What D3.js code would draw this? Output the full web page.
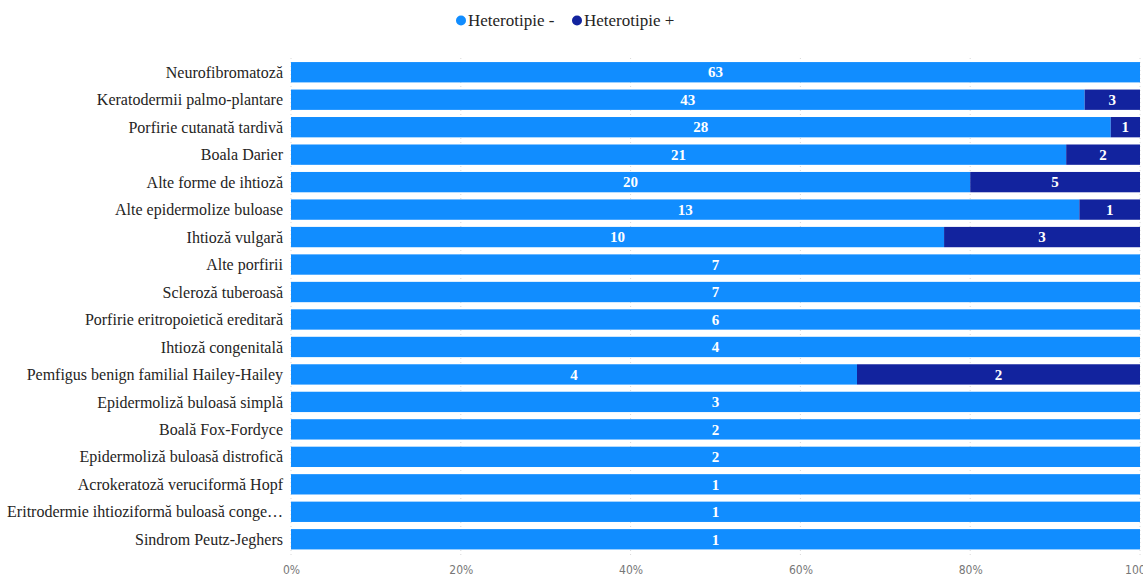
<!DOCTYPE html>
<html>
<head>
<meta charset="utf-8">
<script src="https://cdn.jsdelivr.net/npm/d3@7"></script>
<style>
  html, body { margin: 0; padding: 0; background: #ffffff; overflow: hidden; }
  svg { display: block; }
</style>
</head>
<body>
<svg id="chart" width="1143" height="579"></svg>
<script>
// Diagnoses, counts by heterotopia status
const categories = [
  "Neurofibromatoză",
  "Keratodermii palmo-plantare",
  "Porfirie cutanată tardivă",
  "Boala Darier",
  "Alte forme de ihtioză",
  "Alte epidermolize buloase",
  "Ihtioză vulgară",
  "Alte porfirii",
  "Scleroză tuberoasă",
  "Porfirie eritropoietică ereditară",
  "Ihtioză congenitală",
  "Pemfigus benign familial Hailey-Hailey",
  "Epidermoliză buloasă simplă",
  "Boală Fox-Fordyce",
  "Epidermoliză buloasă distrofică",
  "Acrokeratoză veruciformă Hopf",
  "Eritrodermie ihtioziformă buloasă conge…",
  "Sindrom Peutz-Jeghers"
];
const heterotipieMinus = [63, 43, 28, 21, 20, 13, 10, 7, 7, 6, 4, 4, 3, 2, 2, 1, 1, 1];
const heterotipiePlus  = [0, 3, 1, 2, 5, 1, 3, 0, 0, 0, 0, 2, 0, 0, 0, 0, 0, 0];
const seriesNames = ["Heterotipie -", "Heterotipie +"];
const seriesColors = ["#118DFF", "#12239E"];
const tickValues = [0, 0.2, 0.4, 0.6, 0.8, 1];

const svg = d3.select("#chart");
const serif = "'Liberation Serif', 'Times New Roman', serif";
const axisFont = "'Liberation Sans Narrow', 'DejaVu Sans Condensed', sans-serif";

const rows = categories.map((c, i) => ({
  cat: c,
  minus: heterotipieMinus[i],
  plus: heterotipiePlus[i]
}));

const x = d3.scaleLinear().domain([0, 1]).range([291, 1140]);
const y = d3.scaleBand().domain(categories).range([58.5, 553]).paddingInner(0.26).paddingOuter(0.13);

// faint vertical gridlines
svg.append("g").selectAll("line").data(tickValues).join("line")
  .attr("x1", d => x(d)).attr("x2", d => x(d))
  .attr("y1", 58).attr("y2", 556)
  .attr("stroke", "#d8d8d8").attr("stroke-width", 1)
  .attr("stroke-dasharray", "1,3");

// stacked (normalised) segments
const stack = d3.stack().keys(["minus", "plus"]).offset(d3.stackOffsetExpand);
const layers = stack(rows);

const g = svg.append("g");
layers.forEach((layer, li) => {
  g.append("g").selectAll("rect").data(layer).join("rect")
    .attr("x", d => x(d[0]))
    .attr("width", d => Math.max(0, x(d[1]) - x(d[0])))
    .attr("y", d => y(d.data.cat))
    .attr("height", y.bandwidth())
    .attr("fill", seriesColors[li]);

  g.append("g").selectAll("text").data(layer.filter(d => d.data[layer.key] > 0)).join("text")
    .attr("x", d => (x(d[0]) + x(d[1])) / 2)
    .attr("y", d => y(d.data.cat) + y.bandwidth() / 2)
    .attr("dy", "0.35em")
    .attr("text-anchor", "middle")
    .attr("fill", "#ffffff")
    .attr("font-family", serif)
    .attr("font-weight", "bold")
    .attr("font-size", "15px")
    .text(d => d.data[layer.key]);
});

// category labels
svg.append("g").selectAll("text").data(categories).join("text")
  .attr("x", 283)
  .attr("y", d => y(d) + y.bandwidth() / 2)
  .attr("dy", "0.35em")
  .attr("text-anchor", "end")
  .attr("fill", "#252423")
  .attr("font-family", serif)
  .attr("font-size", "16px")
  .text(d => d);

// x axis
const xAxis = d3.axisBottom(x).tickValues(tickValues).tickFormat(d3.format(".0%")).tickSize(0);
const ax = svg.append("g").attr("transform", "translate(0,562)").call(xAxis);
ax.select(".domain").remove();
ax.selectAll("text")
  .attr("fill", "#777777")
  .attr("font-family", axisFont)
  .attr("font-size", "12px");

// legend
const legend = svg.append("g");
const legendItems = [{name: seriesNames[0], color: seriesColors[0], x: 461},
                     {name: seriesNames[1], color: seriesColors[1], x: 577}];
legendItems.forEach(it => {
  legend.append("circle").attr("cx", it.x).attr("cy", 20.5).attr("r", 5).attr("fill", it.color);
  legend.append("text").attr("x", it.x + 7).attr("y", 20.5).attr("dy", "0.35em")
    .attr("font-family", serif).attr("font-size", "17px").attr("fill", "#252423")
    .text(it.name);
});
</script>
</body>
</html>
